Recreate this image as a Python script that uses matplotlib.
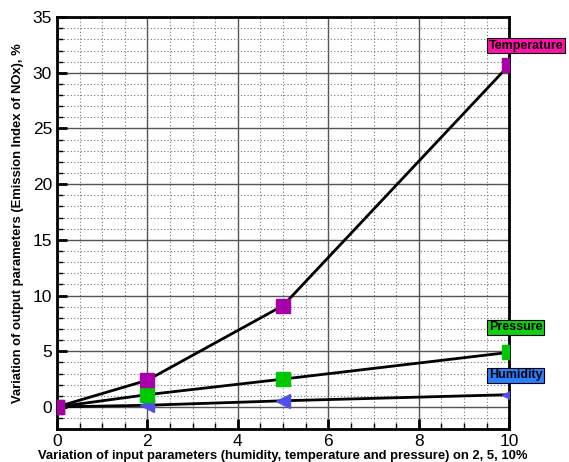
import matplotlib.pyplot as plt
from matplotlib.ticker import MultipleLocator

plt.rcParams['font.family'] = ['Liberation Sans', 'DejaVu Sans']

x = [0, 2, 5, 10]
temperature = [0, 2.4, 9.1, 30.7]
pressure = [0, 1.1, 2.5, 4.9]
humidity = [0, 0.15, 0.55, 1.1]

fig = plt.figure(figsize=(5.69, 4.62), dpi=100)
ax = fig.add_axes([0.100, 0.071, 0.795, 0.892])

ax.plot(x, humidity, color='black', lw=2, marker='<', ms=10,
        mfc='#5050e8', mec='#5050e8', zorder=3)
ax.plot(x, pressure, color='black', lw=2, marker='s', ms=10,
        mfc='#00c800', mec='#00c800', zorder=3)
ax.plot(x, temperature, color='black', lw=2, marker='s', ms=10,
        mfc='#a800a8', mec='#a800a8', zorder=3)

ax.set_xlim(0, 10)
ax.set_ylim(-2, 35)
ax.xaxis.set_major_locator(MultipleLocator(2))
ax.xaxis.set_minor_locator(MultipleLocator(0.5))
ax.yaxis.set_major_locator(MultipleLocator(5))
ax.yaxis.set_minor_locator(MultipleLocator(1))
ax.grid(which='major', color='#555555', lw=1, ls='-')
ax.grid(which='minor', color='#777777', lw=0.8, ls=(0, (1, 2)))
ax.tick_params(which='major', direction='in', length=7, width=2, labelsize=12.5)
ax.tick_params(which='minor', direction='in', length=4, width=1)
for s in ax.spines.values():
    s.set_linewidth(2)

ax.set_xlabel('Variation of input parameters (humidity, temperature and pressure) on 2, 5, 10%',
              fontsize=9.4, fontweight='bold', labelpad=1)
ax.set_ylabel('Variation of output parameters (Emission Index of NOx), %',
              fontsize=9.4, fontweight='bold', labelpad=6)

labels = [('Temperature', '#ff10a8', 31.9),
          ('Pressure', '#10d010', 6.6),
          ('Humidity', '#2a80ff', 2.3)]
for text, col, ty in labels:
    ax.text(9.55, ty, text, fontsize=9, fontweight='bold', va='bottom', ha='left',
            bbox=dict(boxstyle='square,pad=0.12', fc=col, ec='black', lw=0.8),
            clip_on=False, zorder=5)

fig.savefig('out.png', dpi=100)
